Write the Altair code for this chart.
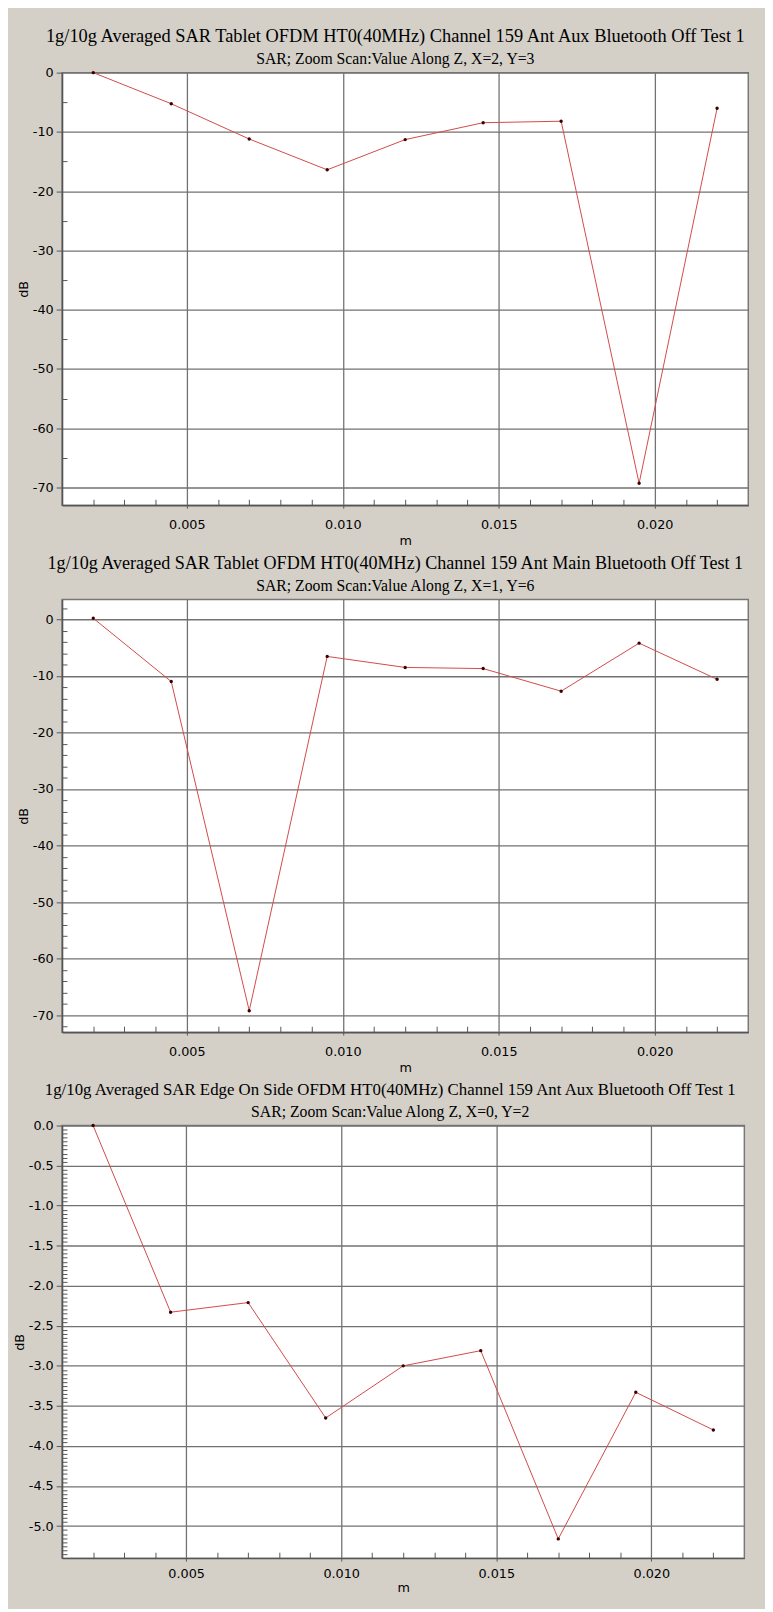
import altair as alt
import pandas as pd

# ---------------- data ----------------
x_m = [0.002, 0.0045, 0.007, 0.0095, 0.012, 0.0145, 0.017, 0.0195, 0.022]
db_tablet_aux = [0.0, -5.25, -11.2, -16.4, -11.3, -8.45, -8.2, -69.3, -6.0]
db_tablet_main = [0.2, -11.0, -69.2, -6.55, -8.5, -8.7, -12.7, -4.2, -10.6]
db_edge_aux = [0.0, -2.33, -2.21, -3.65, -3.00, -2.81, -5.16, -3.33, -3.80]

titles = [
    "1g/10g Averaged SAR Tablet OFDM HT0(40MHz) Channel 159 Ant Aux Bluetooth Off Test 1",
    "1g/10g Averaged SAR Tablet OFDM HT0(40MHz) Channel 159 Ant Main Bluetooth Off Test 1",
    "1g/10g Averaged SAR Edge On Side OFDM HT0(40MHz) Channel 159 Ant Aux Bluetooth Off Test 1",
]
subtitles = [
    "SAR; Zoom Scan:Value Along Z, X=2, Y=3",
    "SAR; Zoom Scan:Value Along Z, X=1, Y=6",
    "SAR; Zoom Scan:Value Along Z, X=0, Y=2",
]

x_domain = [0.001, 0.023]
x_major = [0.005, 0.010, 0.015, 0.020]
x_minor = [0.002, 0.003, 0.004, 0.006, 0.007, 0.008, 0.009, 0.011, 0.012,
           0.013, 0.014, 0.016, 0.017, 0.018, 0.019, 0.021, 0.022]

y_domain_1 = [-73, 0]
y_major_1 = [0, -10, -20, -30, -40, -50, -60, -70]
y_minor_1 = [-5, -15, -25, -35, -45, -55, -65]

y_domain_2 = [-73, 3.5]
y_major_2 = [0, -10, -20, -30, -40, -50, -60, -70]
y_minor_2 = [2, -2, -4, -6, -8, -12, -14, -16, -18, -22, -24, -26, -28,
             -32, -34, -36, -38, -42, -44, -46, -48, -52, -54, -56, -58,
             -62, -64, -66, -68, -72]

y_domain_3 = [-5.4, 0]
y_major_3 = [0.0, -0.5, -1.0, -1.5, -2.0, -2.5, -3.0, -3.5, -4.0, -4.5, -5.0]
y_minor_3 = [round(-0.05 * i, 2) for i in range(1, 108) if i % 10 != 0]

# ---------------- style ----------------
BG = "#d4d0c8"
LINE = "#d04848"
PT = "#3a0000"
GRID = "#727272"
AX = "#555555"
SERIF = "Liberation Serif"
SANS = "DejaVu Sans"


def panel(vals, title, subtitle, ydom, ymaj, ymin, yfmt, width, extent, ytp,
          tsize, toffset, tdx, xlp, xtp):
    df = pd.DataFrame({"m": x_m, "dB": vals})
    xs = alt.Scale(domain=x_domain, nice=False, zero=False)
    ys = alt.Scale(domain=ydom, nice=False, zero=False)
    base = alt.Chart(df)

    line = base.mark_line(color=LINE, strokeWidth=1).encode(
        x=alt.X(
            "m:Q", scale=xs,
            axis=alt.Axis(
                orient="bottom", values=x_major, format=".3f", grid=True,
                gridColor=GRID, gridWidth=1.3, domain=True, domainColor=AX,
                domainWidth=1.5, ticks=True, tickSize=3, tickColor=AX,
                labelPadding=xlp, labelFont=SANS, labelFontSize=13, labelColor="#000000",
                title="m", titleFont=SANS, titleFontSize=13, titleFontWeight="normal",
                titleColor="#000000", titlePadding=xtp,
            ),
        ),
        y=alt.Y(
            "dB:Q", scale=ys,
            axis=alt.Axis(
                orient="left", values=ymaj, grid=True, gridColor=GRID, gridWidth=1.3,
                labelExpr="(datum.value < 0 ? '-' : '') + format(abs(datum.value), '" + yfmt + "')",
                domain=True, domainColor=AX, domainWidth=1.5,
                ticks=True, tickSize=6, tickColor=AX, labelPadding=3,
                labelFont=SANS, labelFontSize=13, labelColor="#000000",
                minExtent=extent, maxExtent=extent,
                title="dB", titleFont=SANS, titleFontSize=13, titleFontWeight="normal",
                titleColor="#000000", titlePadding=ytp,
            ),
        ),
    )
    pts = base.mark_circle(color=PT, size=12, opacity=1).encode(
        x=alt.X("m:Q", scale=xs, axis=None),
        y=alt.Y("dB:Q", scale=ys, axis=None),
    )
    minor = base.mark_point(opacity=0, size=1).encode(
        x=alt.X(
            "m:Q", scale=xs,
            axis=alt.Axis(orient="bottom", values=x_minor, labels=False, domain=False,
                          grid=False, ticks=True, tickSize=6, tickColor=AX,
                          offset=-6, title=None),
        ),
        y=alt.Y(
            "dB:Q", scale=ys,
            axis=alt.Axis(orient="left", values=ymin, labels=False, domain=False,
                          grid=False, ticks=True, tickSize=5, tickColor=AX,
                          offset=-5, title=None),
        ),
    )
    return (
        alt.layer(line, pts, minor)
        .resolve_axis(x="independent", y="independent")
        .properties(
            width=width, height=440,
            title=alt.TitleParams(
                text=title, subtitle=subtitle, anchor="middle", frame="bounds", dx=tdx,
                font=SERIF, fontSize=tsize, fontWeight="normal", color="#000000",
                subtitleFont=SERIF, subtitleFontSize=16, subtitleColor="#000000",
                subtitlePadding=5.8, offset=toffset,
            ),
        )
    )


p1 = panel(db_tablet_aux, titles[0], subtitles[0], y_domain_1, y_major_1, y_minor_1,
           "d", 698, 30, 2.4, 18.7, 0, 12.7, 10.5, 3.8)
p2 = panel(db_tablet_main, titles[1], subtitles[1], y_domain_2, y_major_2, y_minor_2,
           "d", 698, 30, 2.4, 18.4, 5.66, 12.7, 10.5, 3.8)
p3 = panel(db_edge_aux, titles[2], subtitles[2], y_domain_3, y_major_3, y_minor_3,
           ".1f", 694, 34.5, 2.0, 17.1, 0, 11.5, 7, 1)

chart = (
    alt.concat(p1, p2, p3, columns=1, spacing=4, align="none")
    .properties(background=BG, padding={"left": 4, "top": 4, "right": 16, "bottom": 0})
    .configure_view(stroke="#777777", strokeWidth=1.5, fill="#ffffff")
)

chart.save("out.html", embed_options={"renderer": "svg", "actions": False})
